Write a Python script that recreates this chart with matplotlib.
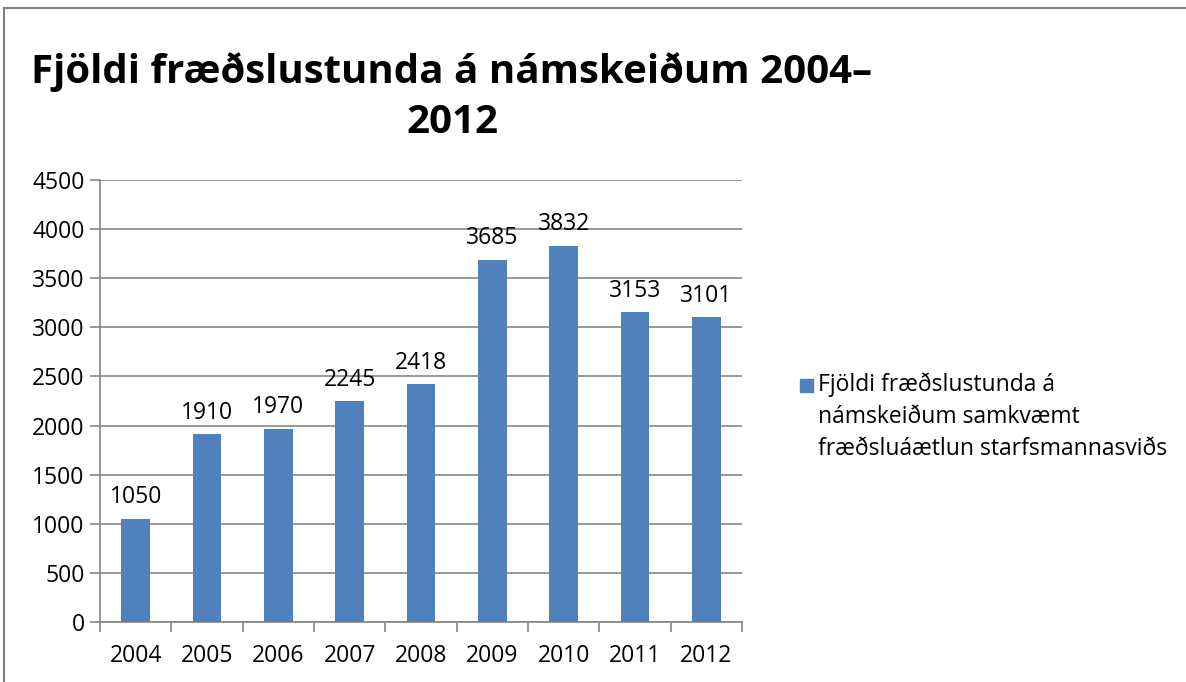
import matplotlib.pyplot as plt
from matplotlib.lines import Line2D

years = ['2004', '2005', '2006', '2007', '2008', '2009', '2010', '2011', '2012']
hours = [1050, 1910, 1970, 2245, 2418, 3685, 3832, 3153, 3101]
yticks = [0, 500, 1000, 1500, 2000, 2500, 3000, 3500, 4000, 4500]
title = 'Fjöldi fræðslustunda á námskeiðum 2004–\n2012'
series_name = 'Fjöldi fræðslustunda á\nnámskeiðum samkvæmt\nfræðsluáætlun starfsmannasviðs'

plt.rcParams['font.family'] = ['Open Sans', 'DejaVu Sans']

W, H = 1186, 682
fig = plt.figure(figsize=(W / 100, H / 100), dpi=100)
ax = fig.add_axes([100 / W, 1 - 622 / H, 642 / W, 442 / H])

bar_color = '#4F81BD'
grid_color = '#868686'
fs = 16.5
x = list(range(len(years)))
bars = ax.bar(x, hours, width=0.4, color=bar_color, zorder=3)
for xi, v in zip(x, hours):
    ax.annotate(str(v), (xi, v), xytext=(0, 7), textcoords='offset points',
                ha='center', va='bottom', fontsize=fs)

ax.set_xlim(-0.5, len(years) - 0.5)
ax.set_ylim(0, 4500)
ax.set_yticks(yticks)
ax.set_yticklabels([str(t) for t in yticks], fontsize=fs)
ax.yaxis.grid(True, color=grid_color, linewidth=1.2, zorder=0)
ax.set_xticks(x)
ax.set_xticklabels(years, fontsize=fs)
ax.tick_params(axis='x', length=0, pad=16)
ax.set_xticks([i - 0.5 for i in range(len(years) + 1)], minor=True)
ax.tick_params(axis='x', which='minor', length=7, color=grid_color, width=1.2)
ax.tick_params(axis='y', length=7, color=grid_color, width=1.2, pad=4)
for s in ['top', 'right']:
    ax.spines[s].set_visible(False)
for s in ['left', 'bottom']:
    ax.spines[s].set_color(grid_color)
    ax.spines[s].set_linewidth(1.2)

fig.text(452 / W, 1 - 97 / H, title, ha='center', va='center', fontsize=29,
         fontweight='bold', linespacing=1.35)

# legend
fig.patches.append(plt.Rectangle((800 / W, 1 - 392 / H), 13 / W, 13 / H,
                                 transform=fig.transFigure, color=bar_color))
fig.text(818 / W, 1 - 372 / H, series_name, ha='left', va='top', fontsize=fs,
         linespacing=1.45)

# outer frame
fig.add_artist(Line2D([4 / W, 1], [1 - 8 / H, 1 - 8 / H], color='#7f7f7f', lw=1.5,
                      transform=fig.transFigure))
fig.add_artist(Line2D([4 / W, 4 / W], [0, 1 - 8 / H], color='#7f7f7f', lw=1.5,
                      transform=fig.transFigure))

fig.savefig('out.png', dpi=100)
